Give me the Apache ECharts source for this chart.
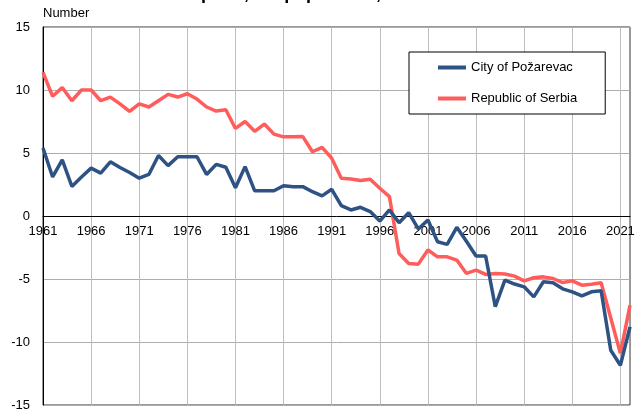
<!DOCTYPE html>
<html>
<head>
<meta charset="utf-8">
<script src="https://cdn.jsdelivr.net/npm/echarts@6/dist/echarts.min.js"></script>
<style>html,body{margin:0;padding:0;background:#fff}#c{width:639px;height:410px}</style>
</head>
<body>
<div id="c"></div>
<script>
var years = [];
for (var y = 1961; y <= 2022; y++) years.push(String(y));
var seriesNames = ['City of Požarevac', 'Republic of Serbia'];
var pozarevac = [
  5.4, 3.1, 4.45, 2.35, 3.1, 3.8, 3.4, 4.3, 3.85, 3.45,
  3.0, 3.3, 4.8, 4.0, 4.7, 4.7, 4.7, 3.3, 4.1, 3.87,
  2.25, 3.92, 2.0, 2.0, 2.0, 2.4, 2.33, 2.33, 1.93, 1.6,
  2.12, 0.82, 0.48, 0.69, 0.35, -0.4, 0.48, -0.53, 0.26, -1.03,
  -0.32, -2.04, -2.25, -0.9, -2.0, -3.18, -3.18, -7.2, -5.09, -5.4,
  -5.62, -6.42, -5.22, -5.3, -5.78, -6.02, -6.34, -6.02, -5.94, -10.66,
  -11.85, -8.8
];
var serbia = [
  11.4, 9.5, 10.2, 9.15, 10.0, 10.0, 9.15, 9.44, 8.9, 8.3,
  8.9, 8.65, 9.15, 9.65, 9.44, 9.7, 9.28, 8.65, 8.33, 8.43,
  6.95, 7.5, 6.72, 7.3, 6.5, 6.28, 6.28, 6.3, 5.1, 5.45,
  4.59, 3.0, 2.94, 2.81, 2.92, 2.2, 1.54, -2.97, -3.77, -3.82,
  -2.7, -3.24, -3.24, -3.5, -4.56, -4.3, -4.64, -4.56, -4.6, -4.77,
  -5.15, -4.9, -4.83, -4.96, -5.28, -5.15, -5.49, -5.41, -5.3, -8.1,
  -10.9, -7.1
];
var font = 'Liberation Sans, Arial, sans-serif';
var chart = echarts.init(document.getElementById('c'), null, {renderer: 'canvas'});
chart.setOption({
  animation: false,
  backgroundColor: '#ffffff',
  title: {
    text: 'Natural increase per 1,000 population, 1961–2022',
    left: 51, top: -20,
    textStyle: {fontFamily: font, fontSize: 18, fontWeight: 'bold', color: '#000'}
  },
  grid: {left: 43, right: 9, top: 27, bottom: 5, show: true, borderColor: '#333', borderWidth: 1,
         containLabel: false, outerBoundsMode: 'none'},
  legend: {
    orient: 'vertical',
    left: 409, top: 52,
    padding: [9, 28, 9, 29],
    itemGap: 18,
    itemWidth: 28, itemHeight: 4,
    backgroundColor: '#fff',
    borderColor: '#000', borderWidth: 1,
    borderRadius: 0,
    textStyle: {fontFamily: font, fontSize: 13, color: '#000'},
    data: [{name: seriesNames[0], icon: 'rect'}, {name: seriesNames[1], icon: 'rect'}]
  },
  xAxis: {
    type: 'category',
    data: years,
    boundaryGap: false,
    position: 'bottom',
    offset: -189,
    axisLine: {onZero: false, lineStyle: {color: '#000', width: 1}},
    axisTick: {show: false},
    axisLabel: {interval: 4, margin: 9, fontFamily: font, fontSize: 13, color: '#000'},
    splitLine: {show: true, interval: 4, lineStyle: {color: '#bdbdbd', width: 1}}
  },
  yAxis: {
    type: 'value',
    min: -15, max: 15, interval: 5,
    name: 'Number',
    nameLocation: 'end',
    nameGap: 7,
    nameTextStyle: {fontFamily: font, fontSize: 13, color: '#000', align: 'left'},
    axisLine: {show: true, lineStyle: {color: '#000', width: 1}},
    axisTick: {show: false},
    axisLabel: {margin: 13, fontFamily: font, fontSize: 13, color: '#000'},
    splitLine: {show: true, lineStyle: {color: '#adadad', width: 1}}
  },
  series: [
    {name: seriesNames[0], type: 'line', data: pozarevac, showSymbol: false, symbol: 'none',
     lineStyle: {color: '#2e5283', width: 3.5}, itemStyle: {color: '#2e5283'}, z: 3},
    {name: seriesNames[1], type: 'line', data: serbia, showSymbol: false, symbol: 'none',
     lineStyle: {color: '#ff5c5c', width: 3.5}, itemStyle: {color: '#ff5c5c'}, z: 2}
  ]
});
</script>
</body>
</html>
